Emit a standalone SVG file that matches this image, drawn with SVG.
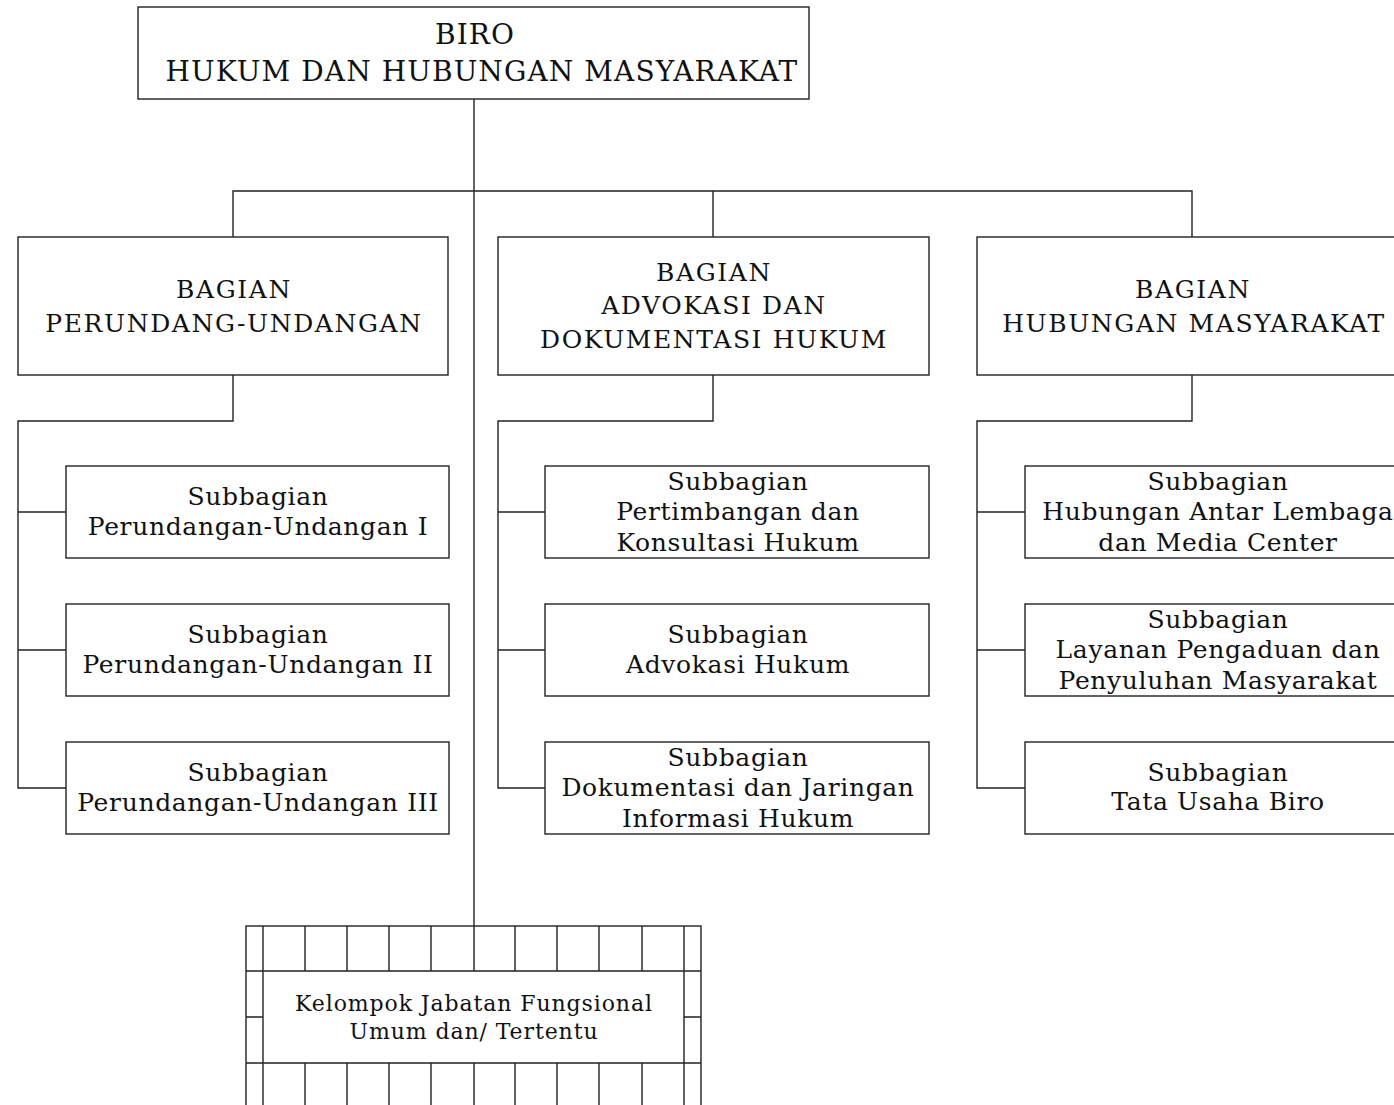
<svg xmlns="http://www.w3.org/2000/svg" width="1394" height="1105" viewBox="0 0 1394 1105">
  <style>
    .box { fill: #ffffff; stroke: #222222; stroke-width: 1.4; }
    .ln { fill: none; stroke: #222222; stroke-width: 1.4; }
    text { font-family: "DejaVu Serif", "Liberation Serif", serif; fill: #111111; text-anchor: middle; }
    .t1 { font-size: 28px; letter-spacing: 1.1px; }
    .t2 { font-size: 25px; letter-spacing: 1.6px; }
    .t3 { font-size: 25px; letter-spacing: 0.65px; }
    .t4 { font-size: 22px; letter-spacing: 0.9px; }
  </style>
  <rect width="1394" height="1105" fill="#ffffff"/>

  <!-- connectors -->
  <g id="connectors">
    <path class="ln" d="M474 99 V926"/>
    <path class="ln" d="M233 237 V191 H1192 V237 M713 191 V237"/>
    <!-- left branch -->
    <path class="ln" d="M233 375 V421 H18 V788 H66 M18 512 H66 M18 650 H66"/>
    <!-- middle branch -->
    <path class="ln" d="M713 375 V421 H498 V788 H545 M498 512 H545 M498 650 H545"/>
    <!-- right branch -->
    <path class="ln" d="M1192 375 V421 H977 V788 H1025 M977 512 H1025 M977 650 H1025"/>
  </g>

  <g id="biro">
    <rect class="box" x="138" y="7" width="671" height="92"/>
    <text class="t1" x="475" y="44">BIRO</text>
    <text class="t1" x="482" y="81">HUKUM DAN HUBUNGAN MASYARAKAT</text>
  </g>

  <g id="bagian-perundang">
    <rect class="box" x="18" y="237" width="430" height="138"/>
    <text class="t2" x="234" y="298">BAGIAN</text>
    <text class="t2" x="234" y="332">PERUNDANG-UNDANGAN</text>
  </g>
  <g id="bagian-advokasi">
    <rect class="box" x="498" y="237" width="431" height="138"/>
    <text class="t2" x="714" y="281">BAGIAN</text>
    <text class="t2" x="714" y="314">ADVOKASI DAN</text>
    <text class="t2" x="714" y="348">DOKUMENTASI HUKUM</text>
  </g>
  <g id="bagian-humas">
    <rect class="box" x="977" y="237" width="430" height="138"/>
    <text class="t2" x="1193" y="298">BAGIAN</text>
    <text class="t2" x="1194" y="332">HUBUNGAN MASYARAKAT</text>
  </g>

  <g id="sub-pu1">
    <rect class="box" x="66" y="466" width="383" height="92"/>
    <text class="t3" x="258" y="505">Subbagian</text>
    <text class="t3" x="258" y="535">Perundangan-Undangan I</text>
  </g>
  <g id="sub-pu2">
    <rect class="box" x="66" y="604" width="383" height="92"/>
    <text class="t3" x="258" y="643">Subbagian</text>
    <text class="t3" x="258" y="673">Perundangan-Undangan II</text>
  </g>
  <g id="sub-pu3">
    <rect class="box" x="66" y="742" width="383" height="92"/>
    <text class="t3" x="258" y="781">Subbagian</text>
    <text class="t3" x="258" y="811">Perundangan-Undangan III</text>
  </g>

  <g id="sub-pertimbangan">
    <rect class="box" x="545" y="466" width="384" height="92"/>
    <text class="t3" x="738" y="490">Subbagian</text>
    <text class="t3" x="738" y="520">Pertimbangan dan</text>
    <text class="t3" x="738" y="551">Konsultasi Hukum</text>
  </g>
  <g id="sub-advokasi">
    <rect class="box" x="545" y="604" width="384" height="92"/>
    <text class="t3" x="738" y="643">Subbagian</text>
    <text class="t3" x="738" y="673">Advokasi Hukum</text>
  </g>
  <g id="sub-dokumentasi">
    <rect class="box" x="545" y="742" width="384" height="92"/>
    <text class="t3" x="738" y="766">Subbagian</text>
    <text class="t3" x="738" y="796">Dokumentasi dan Jaringan</text>
    <text class="t3" x="738" y="827">Informasi Hukum</text>
  </g>

  <g id="sub-hal">
    <rect class="box" x="1025" y="466" width="384" height="92"/>
    <text class="t3" x="1218" y="490">Subbagian</text>
    <text class="t3" x="1218" y="520">Hubungan Antar Lembaga</text>
    <text class="t3" x="1218" y="551">dan Media Center</text>
  </g>
  <g id="sub-layanan">
    <rect class="box" x="1025" y="604" width="384" height="92"/>
    <text class="t3" x="1218" y="628">Subbagian</text>
    <text class="t3" x="1218" y="658">Layanan Pengaduan dan</text>
    <text class="t3" x="1218" y="689">Penyuluhan Masyarakat</text>
  </g>
  <g id="sub-tu">
    <rect class="box" x="1025" y="742" width="384" height="92"/>
    <text class="t3" x="1218" y="781">Subbagian</text>
    <text class="t3" x="1218" y="810">Tata Usaha Biro</text>
  </g>

  <g id="fungsional">
    <rect class="box" x="246" y="926" width="455" height="190"/>
    <path class="ln" d="M263 926 V1105 M684 926 V1105 M246 971 H701 M246 1063 H701 M246 1017 H263 M684 1017 H701"/>
    <path class="ln" d="M305 926 V971 M347 926 V971 M389 926 V971 M431 926 V971 M474 926 V971 M515 926 V971 M557 926 V971 M599 926 V971 M642 926 V971"/>
    <path class="ln" d="M305 1063 V1105 M347 1063 V1105 M389 1063 V1105 M431 1063 V1105 M474 1063 V1105 M515 1063 V1105 M557 1063 V1105 M599 1063 V1105 M642 1063 V1105"/>
    <text class="t4" x="474" y="1011">Kelompok Jabatan Fungsional</text>
    <text class="t4" x="474" y="1039">Umum dan/ Tertentu</text>
  </g>
</svg>
